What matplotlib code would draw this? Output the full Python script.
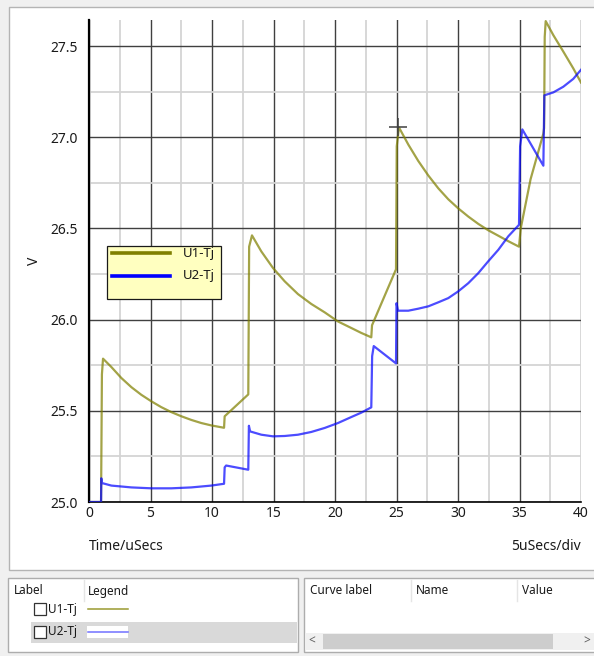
import matplotlib
matplotlib.use("Agg")
import matplotlib.pyplot as plt
from matplotlib.patches import Rectangle
from matplotlib.lines import Line2D
from matplotlib.ticker import MultipleLocator

plt.rcParams['font.family'] = ['Noto Sans', 'DejaVu Sans']

# ---------------- data ----------------
u1_t = [0.0, 0.98, 1.05, 1.14, 1.82, 2.63, 3.44, 4.25, 5.07, 5.88, 6.69, 7.51,
        8.32, 9.13, 9.94, 10.98, 11.03, 12.95, 13.02, 13.25, 14.01, 14.96,
        15.91, 16.99, 18.07, 19.16, 20.24, 21.33, 22.14, 22.95, 23.01, 24.96,
        25.02, 25.2, 25.96, 26.77, 27.59, 28.4, 29.21, 30.02, 30.84, 31.65,
        32.46, 33.28, 34.09, 34.96, 35.1, 35.9, 36.94, 37.0, 37.05, 37.13,
        37.75, 38.56, 39.37, 40.0]
u1_v = [25.0, 25.0, 25.70, 25.786, 25.74, 25.68, 25.63, 25.588, 25.552, 25.52,
        25.493, 25.47, 25.45, 25.433, 25.42, 25.407, 25.47, 25.59, 26.40,
        26.462, 26.374, 26.283, 26.21, 26.14, 26.086, 26.04, 25.99, 25.954,
        25.927, 25.903, 25.969, 26.276, 26.95, 27.054, 26.96, 26.87, 26.79,
        26.72, 26.66, 26.61, 26.565, 26.525, 26.49, 26.46, 26.43, 26.40,
        26.50, 26.77, 27.02, 27.05, 27.55, 27.637, 27.56, 27.47, 27.378, 27.30]

u2_t = [0.0, 0.98, 1.0, 1.05, 1.82, 3.44, 5.07, 6.69, 8.32, 9.94, 10.98, 11.03,
        11.15, 12.95, 13.0, 13.1, 14.01, 14.96, 15.91, 16.99, 18.07, 19.16,
        20.24, 21.33, 22.14, 22.95, 23.02, 23.15, 24.96, 25.0, 25.12, 25.96,
        26.77, 27.59, 28.4, 29.21, 30.02, 30.84, 31.65, 32.46, 33.28, 34.09,
        34.96, 35.05, 35.23, 36.94, 37.02, 37.75, 38.56, 39.37, 40.0]
u2_v = [25.0, 25.0, 25.13, 25.104, 25.09, 25.08, 25.075, 25.075, 25.08, 25.09,
        25.10, 25.19, 25.20, 25.177, 25.418, 25.387, 25.369, 25.36, 25.362,
        25.369, 25.384, 25.406, 25.433, 25.466, 25.49, 25.519, 25.80, 25.855,
        25.76, 26.09, 26.049, 26.049, 26.06, 26.073, 26.095, 26.118, 26.155,
        26.20, 26.255, 26.32, 26.383, 26.457, 26.52, 26.95, 27.043, 26.844,
        27.23, 27.246, 27.277, 27.32, 27.37]

series_labels = ["U1-Tj", "U2-Tj"]
cursor_x = [25.12]
cursor_y = [27.056]

x_ticks = [0, 5, 10, 15, 20, 25, 30, 35, 40]
y_ticks = [25.0, 25.5, 26.0, 26.5, 27.0, 27.5]

# ---------------- figure ----------------
W, H = 594, 656
fig = plt.figure(figsize=(W / 100, H / 100), dpi=100, facecolor='#f0f0f0')


def fx(x):
    return x / W


def fy(y):
    return 1 - y / H


def rect(x0, y0, x1, y1, fc, ec='none', lw=1.0, z=0):
    r = Rectangle((fx(x0), fy(y1)), fx(x1) - fx(x0), fy(y0) - fy(y1),
                  transform=fig.transFigure, facecolor=fc, edgecolor=ec,
                  linewidth=lw, zorder=z)
    fig.add_artist(r)


def hline(x0, x1, y, color, lw=1.0, z=2):
    fig.add_artist(Line2D([fx(x0), fx(x1)], [fy(y), fy(y)],
                          transform=fig.transFigure, color=color, lw=lw, zorder=z))


def vline(x, y0, y1, color, lw=1.0, z=2):
    fig.add_artist(Line2D([fx(x), fx(x)], [fy(y0), fy(y1)],
                          transform=fig.transFigure, color=color, lw=lw, zorder=z))


def ftext(x, y, s, size=8.5, ha='left', va='center', color='#1a1a1a', z=5):
    fig.text(fx(x), fy(y), s, fontsize=size, ha=ha, va=va, color=color, zorder=z)


# main white panel
rect(9, 7, 600, 570, 'white', '#b4b4b4', 1.0, z=0)

ax = fig.add_axes([fx(89), fy(502), fx(581) - fx(89), fy(20) - fy(502)])
ax.set_facecolor('white')
ax.set_xlim(0, 40)
ax.set_ylim(25.0, 27.643)
ax.xaxis.set_major_locator(MultipleLocator(5))
ax.xaxis.set_minor_locator(MultipleLocator(2.5))
ax.yaxis.set_major_locator(MultipleLocator(0.5))
ax.yaxis.set_minor_locator(MultipleLocator(0.25))
ax.set_xticks(x_ticks)
ax.set_xticklabels([str(t) for t in x_ticks])
ax.set_yticks(y_ticks)
ax.set_yticklabels([f"{t:.1f}" for t in y_ticks])
ax.grid(which='minor', color='#d4d4d4', lw=1.3)
ax.grid(which='major', color='#404040', lw=1.0)
ax.set_axisbelow(True)
ax.tick_params(which='both', length=0, labelsize=10, colors='#1a1a1a')
ax.tick_params(axis='y', pad=8)
ax.tick_params(axis='x', pad=3)
for s in ['top', 'right']:
    ax.spines[s].set_visible(False)
ax.spines['left'].set_color('black')
ax.spines['left'].set_linewidth(1.6)
ax.spines['bottom'].set_color('black')
ax.spines['bottom'].set_linewidth(1.2)

ax.plot(u1_t, u1_v, color='#808000', alpha=0.72, lw=1.6, zorder=3,
        solid_joinstyle='round')
ax.plot(u2_t, u2_v, color='#0000ff', alpha=0.7, lw=1.6, zorder=3,
        solid_joinstyle='round')
ax.plot(cursor_x, cursor_y, marker='+', ms=13, mew=1.1, color='#404040',
        ls='none', zorder=4)

ax.set_ylabel('V', fontsize=10, color='#1a1a1a')
ax.yaxis.set_label_coords((42 - 89) / (581 - 89), 0.5)

ftext(89, 547, 'Time/uSecs', size=10)
ftext(581, 547, '5uSecs/div', size=10, ha='right')

# in-plot legend
rect(107, 246, 221, 299, '#ffffc0', '#1a1a1a', 0.9, z=5)
hline(112, 170, 253, '#808000', lw=2.6, z=6)
hline(112, 170, 276, '#0000ff', lw=2.6, z=6)
ftext(183, 253, series_labels[0], size=9.5, z=6)
ftext(183, 276, series_labels[1], size=9.5, z=6)

# ---------------- bottom panels ----------------
rect(8, 578, 298, 652, 'white', '#adadad', 1.0, z=1)
rect(304, 578, 600, 652, 'white', '#adadad', 1.0, z=1)

ftext(14, 591, 'Label')
ftext(88, 591, 'Legend')
vline(84, 580, 601, '#e5e5e5', lw=1.0)

# highlighted row
rect(31, 622, 297, 643, '#d9d9d9', z=2)
for yy, lab, col, bg in [(609, series_labels[0], '#9a9a30', None),
                         (632, series_labels[1], '#7070ff', 'white')]:
    rect(34, yy - 6, 46, yy + 6, 'white', '#333333', 0.9, z=3)
    ftext(48, yy, lab, size=8.5)
    if bg:
        rect(87, yy - 6, 128, yy + 6, bg, z=3)
    hline(88, 128, yy, col, lw=1.1, z=4)

ftext(310, 591, 'Curve label')
ftext(416, 591, 'Name')
ftext(522, 591, 'Value')
vline(411, 580, 601, '#e5e5e5', lw=1.0)
vline(517, 580, 601, '#e5e5e5', lw=1.0)

# scrollbar
rect(305, 633, 599, 650, '#f0f0f0', z=2)
rect(323, 634, 553, 649, '#cdcdcd', z=3)
ftext(312, 641, '<', size=8.5, color='#606060', ha='center')
ftext(587, 641, '>', size=8.5, color='#606060', ha='center')

fig.savefig('out.png', dpi=100, facecolor=fig.get_facecolor())
